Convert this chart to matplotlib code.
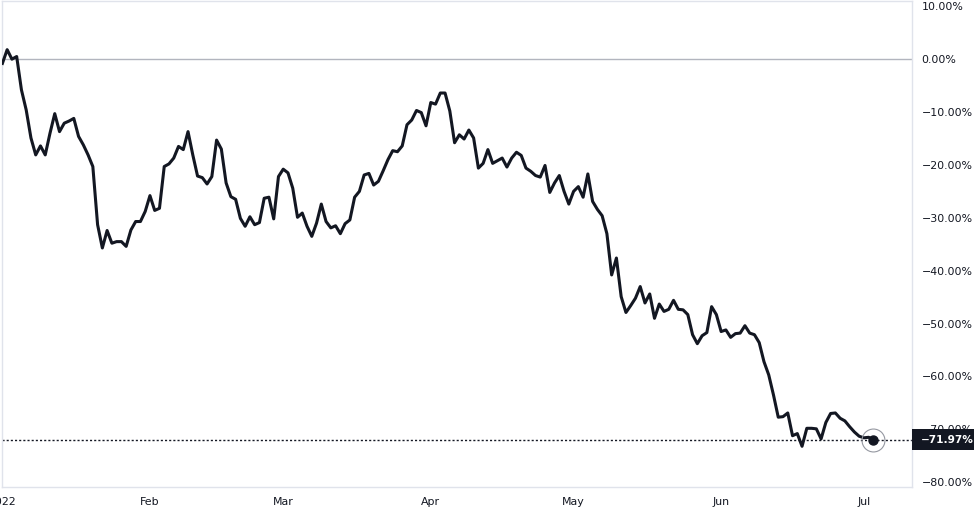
import numpy as np
import pandas as pd
import matplotlib
matplotlib.use("Agg")
import matplotlib.pyplot as plt
import matplotlib.patches as mpatches

# ===========================
# Data (percent change, daily from 2022-01-01)
# ===========================
START_DATE = "2022-01-01"
PCT_CHANGE = [
    -0.8, 1.8, 0.0, 0.5, -5.8, -9.6, -14.9, -18.1, -16.4, -18.1,
    -14.0, -10.3, -13.7, -12.1, -11.7, -11.2, -14.6, -16.2, -18.1, -20.3,
    -31.3, -35.7, -32.4, -34.8, -34.5, -34.5, -35.4, -32.3, -30.7, -30.7,
    -28.8, -25.8, -28.6, -28.2, -20.3, -19.8, -18.7, -16.5, -17.1, -13.7,
    -18.1, -22.1, -22.4, -23.6, -22.2, -15.3, -17.0, -23.4, -26.0, -26.5,
    -30.1, -31.6, -29.8, -31.3, -30.9, -26.3, -26.1, -30.2, -22.2, -20.8,
    -21.5, -24.4, -29.9, -29.1, -31.6, -33.5, -31.0, -27.4, -30.7, -31.9,
    -31.5, -33.0, -31.1, -30.4, -26.1, -25.0, -21.9, -21.6, -23.8, -23.1,
    -21.1, -19.0, -17.3, -17.5, -16.4, -12.4, -11.5, -9.7, -10.1, -12.6,
    -8.2, -8.5, -6.4, -6.4, -9.8, -15.8, -14.3, -15.1, -13.4, -14.9,
    -20.6, -19.7, -17.1, -19.7, -19.2, -18.7, -20.4, -18.7, -17.6, -18.2,
    -20.6, -21.2, -22.0, -22.3, -20.1, -25.2, -23.4, -22.0, -25.0, -27.4,
    -25.0, -24.1, -26.1, -21.7, -26.9, -28.4, -29.6, -33.0, -40.8, -37.6,
    -44.9, -47.9, -46.6, -45.2, -43.0, -46.1, -44.4, -49.0, -46.3, -47.7,
    -47.3, -45.6, -47.3, -47.4, -48.3, -52.1, -53.8, -52.3, -51.7, -46.8,
    -48.3, -51.5, -51.2, -52.6, -51.9, -51.8, -50.4, -51.8, -52.1, -53.6,
    -57.2, -59.7, -63.5, -67.7, -67.6, -66.9, -71.2, -70.8, -73.2, -69.8,
    -69.8, -69.9, -71.8, -68.7, -67.0, -66.9, -67.9, -68.4, -69.5, -70.5,
    -71.3, -71.6, -71.5, -71.97,
]
Y_TICKS = [10, 0, -10, -20, -30, -40, -50, -60, -70, -80]
MONTH_LABELS = ["2022", "Feb", "Mar", "Apr", "May", "Jun", "Jul"]

LINE_COLOR = "#131722"
TEXT_COLOR = "#131722"
GRID_COLOR = "#E0E3EB"
Y_MIN, Y_MAX = -80.9, 11.0


def fmt_pct(v):
    return f"\u2212{abs(v):.2f}%" if v < 0 else f"{v:.2f}%"


def main():
    dates = pd.date_range(START_DATE, periods=len(PCT_CHANGE), freq="D")
    values = np.array(PCT_CHANGE)
    last_val = values[-1]

    fig = plt.figure(figsize=(9.74, 5.11), dpi=100)
    ax_w, ax_h = 910, 486
    ax = fig.add_axes([2 / 974, 24 / 511, ax_w / 974, ax_h / 511])

    ax.axhline(0, color="#B2B5BE", lw=1, zorder=1)
    ax.axhline(last_val, color=LINE_COLOR, lw=1, ls=(0, (1.5, 1.5)), zorder=1)
    ax.plot(dates, values, color=LINE_COLOR, lw=2.2, solid_joinstyle="round", zorder=3)

    # end point marker
    ax.plot(dates[-1], last_val, "o", ms=16.5, mfc="none", mec="#9598A1", mew=0.8, zorder=4)
    ax.plot(dates[-1], last_val, "o", ms=6.5, color=LINE_COLOR, zorder=5)

    start = pd.Timestamp(START_DATE)
    ax.set_xlim(start - pd.Timedelta(hours=2), start + pd.Timedelta(days=191.1))
    ax.set_ylim(Y_MIN, Y_MAX)

    # axes / ticks
    month_ticks = pd.date_range(START_DATE, periods=len(MONTH_LABELS), freq="MS")
    ax.set_xticks(month_ticks)
    ax.set_xticklabels(MONTH_LABELS)
    ax.set_yticks(Y_TICKS)
    ax.set_yticklabels([fmt_pct(t) for t in Y_TICKS])
    ax.yaxis.tick_right()
    ax.tick_params(axis="both", length=0, labelsize=7.9, labelcolor=TEXT_COLOR)
    ax.tick_params(axis="y", pad=7)
    ax.tick_params(axis="x", pad=7)
    for side in ["left", "right", "top", "bottom"]:
        ax.spines[side].set_color(GRID_COLOR)
        ax.spines[side].set_linewidth(1)

    # last value label on the price scale
    y_frac = (last_val - Y_MIN) / (Y_MAX - Y_MIN)
    box_h = 21 / ax_h
    box = mpatches.Rectangle((1.0, y_frac - box_h / 2), 64 / ax_w, box_h,
                             transform=ax.transAxes, fc=LINE_COLOR, ec="none",
                             clip_on=False, zorder=9)
    ax.add_patch(box)
    ax.text(1.0 + 9 / ax_w, y_frac, fmt_pct(last_val), transform=ax.transAxes,
            ha="left", va="center", fontsize=7.6, fontweight="bold", color="white",
            clip_on=False, zorder=10)

    fig.savefig("out.png", dpi=100, facecolor="white")


if __name__ == "__main__":
    main()
